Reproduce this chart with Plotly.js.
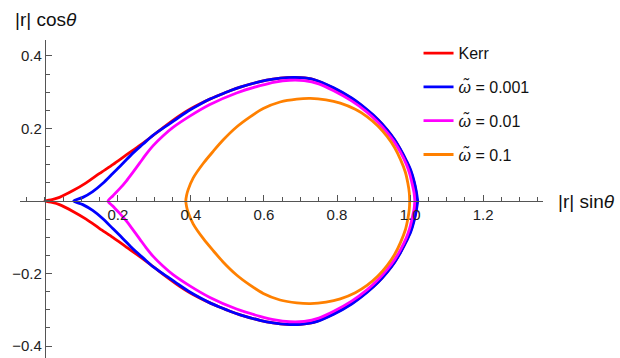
<!DOCTYPE html>
<html>
<head>
<meta charset="utf-8">
<script src="https://cdn.plot.ly/plotly-3.0.1.min.js"></script>
<style>html,body{margin:0;padding:0;background:#fff;}#chart{width:620px;height:358px;}</style>
</head>
<body>
<div id="chart"></div>
<script>
// Upper halves of each closed curve (the curves are symmetric about the horizontal axis)
const seriesNames = ["Kerr", "<i>ω̃</i> = 0.001", "<i>ω̃</i> = 0.01", "<i>ω̃</i> = 0.1"];
const seriesColors = ["#ff0000", "#0000ff", "#ff00ff", "#ff8000"];

const kerrX = [0, 0.02, 0.04, 0.076, 0.113, 0.15, 0.187, 0.223, 0.261, 0.298, 0.334, 0.37, 0.397, 0.425, 0.452, 0.48, 0.507, 0.535, 0.589, 0.625, 0.663, 0.7, 0.736, 0.791, 0.84, 0.882, 0.912, 0.937, 0.958, 0.974, 0.99, 1.001, 1.01, 1.016, 1.019];
const kerrY = [0, 0.004, 0.010, 0.028, 0.050, 0.076, 0.101, 0.127, 0.154, 0.182, 0.210, 0.236, 0.253, 0.268, 0.281, 0.293, 0.304, 0.314, 0.329, 0.336, 0.340, 0.340, 0.335, 0.311, 0.283, 0.251, 0.224, 0.196, 0.168, 0.141, 0.11, 0.084, 0.055, 0.027, 0];

const w001X = [0.079, 0.104, 0.131, 0.159, 0.186, 0.214, 0.241, 0.269, 0.296, 0.333, 0.37, 0.397, 0.425, 0.452, 0.48, 0.507, 0.535, 0.589, 0.625, 0.663, 0.7, 0.736, 0.791, 0.84, 0.882, 0.912, 0.937, 0.958, 0.974, 0.99, 1.002, 1.011, 1.017, 1.021];
const w001Y = [0, 0.010, 0.026, 0.049, 0.076, 0.104, 0.132, 0.157, 0.181, 0.207, 0.233, 0.251, 0.267, 0.281, 0.293, 0.304, 0.314, 0.329, 0.336, 0.340, 0.340, 0.335, 0.312, 0.284, 0.252, 0.225, 0.197, 0.169, 0.142, 0.111, 0.085, 0.055, 0.027, 0];

const w01X = [0.173, 0.186, 0.205, 0.223, 0.241, 0.26, 0.278, 0.296, 0.324, 0.351, 0.397, 0.452, 0.525, 0.589, 0.63, 0.67, 0.71, 0.75, 0.791, 0.84, 0.882, 0.912, 0.937, 0.958, 0.974, 0.99, 0.999, 1.006, 1.011, 1.013];
const w01Y = [0, 0.014, 0.034, 0.055, 0.079, 0.105, 0.13, 0.152, 0.18, 0.203, 0.234, 0.266, 0.298, 0.318, 0.328, 0.333, 0.332, 0.323, 0.304, 0.276, 0.245, 0.217, 0.189, 0.161, 0.134, 0.101, 0.075, 0.046, 0.022, 0];

const w1X = [0.386, 0.388, 0.392, 0.406, 0.434, 0.461, 0.488, 0.525, 0.562, 0.598, 0.644, 0.69, 0.727, 0.77, 0.809, 0.85, 0.882, 0.912, 0.937, 0.958, 0.974, 0.987, 0.994, 0.998, 0.999];
const w1Y = [0, 0.015, 0.03, 0.063, 0.104, 0.137, 0.168, 0.204, 0.232, 0.255, 0.273, 0.281, 0.283, 0.279, 0.27, 0.253, 0.233, 0.207, 0.178, 0.147, 0.114, 0.08, 0.049, 0.022, 0];

const xTickVals = [0.2, 0.4, 0.6, 0.8, 1.0, 1.2];
const xTickText = ["0.2", "0.4", "0.6", "0.8", "1.0", "1.2"];
const yTickVals = [-0.4, -0.2, 0.2, 0.4];
const yTickText = ["\u22120.4", "\u22120.2", "0.2", "0.4"];

function closed(xs, ys) {
  const rx = xs.slice().reverse();
  const ry = ys.slice().reverse().map(v => -v);
  return { x: xs.concat(rx), y: ys.concat(ry) };
}

const upper = [[kerrX, kerrY], [w001X, w001Y], [w01X, w01Y], [w1X, w1Y]];
const traces = upper.map((p, i) => {
  const c = closed(p[0], p[1]);
  return {
    type: "scatter", mode: "lines", x: c.x, y: c.y,
    name: seriesNames[i], legendgroup: "g" + i,
    line: { color: seriesColors[i], width: 2.8, shape: "spline", smoothing: 0.8 },
    hoverinfo: "skip"
  };
});

const xr = [-0.068, 1.364], yr = [-0.433, 0.444];
const axisColor = "#555555";
const font = "Liberation Sans, Arial, sans-serif";

const layout = {
  width: 620, height: 358,
  margin: { l: 20, r: 77, t: 40, b: 0 },
  paper_bgcolor: "#ffffff", plot_bgcolor: "#ffffff",
  font: { family: font, color: "#222222" },
  showlegend: true,
  legend: {
    x: 0.762, y: 1.012, xanchor: "left", yanchor: "top",
    font: { size: 16, family: font, color: "#111111" },
    tracegroupgap: 10, bgcolor: "rgba(0,0,0,0)", borderwidth: 0
  },
  xaxis: {
    range: xr, anchor: "free", position: (0 - yr[0]) / (yr[1] - yr[0]),
    showline: true, linecolor: axisColor, linewidth: 1,
    showgrid: false, zeroline: false,
    ticks: "inside", ticklen: 6, tickwidth: 1, tickcolor: axisColor,
    tickmode: "array", tickvals: xTickVals, ticktext: xTickText,
    tickfont: { size: 15, family: font, color: "#222222" },
    minor: { tickmode: "linear", tick0: 0, dtick: 0.05, ticks: "inside", ticklen: 4, tickwidth: 1, tickcolor: axisColor, showgrid: false },
    fixedrange: true
  },
  yaxis: {
    range: yr, anchor: "free", position: (0 - xr[0]) / (xr[1] - xr[0]), side: "left",
    showline: true, linecolor: axisColor, linewidth: 1,
    showgrid: false, zeroline: false,
    ticks: "inside", ticklen: 6, tickwidth: 1, tickcolor: axisColor,
    tickmode: "array", tickvals: yTickVals, ticktext: yTickText,
    tickfont: { size: 15, family: font, color: "#222222" },
    minor: { tickmode: "linear", tick0: 0, dtick: 0.05, ticks: "inside", ticklen: 4, tickwidth: 1, tickcolor: axisColor, showgrid: false },
    fixedrange: true
  },
  annotations: [
    { text: "|r| cos<i>θ</i>", xref: "paper", yref: "paper", x: -0.013, y: 1.063, xanchor: "left", yanchor: "middle", showarrow: false, font: { size: 19, family: font, color: "#111111" } },
    { text: "|r| sin<i>θ</i>", xref: "paper", yref: "paper", x: 1.024, y: 0.4937, xanchor: "left", yanchor: "middle", showarrow: false, font: { size: 19, family: font, color: "#111111" } }
  ]
};

Plotly.newPlot("chart", traces, layout, { displayModeBar: false, staticPlot: true });
</script>
</body>
</html>
